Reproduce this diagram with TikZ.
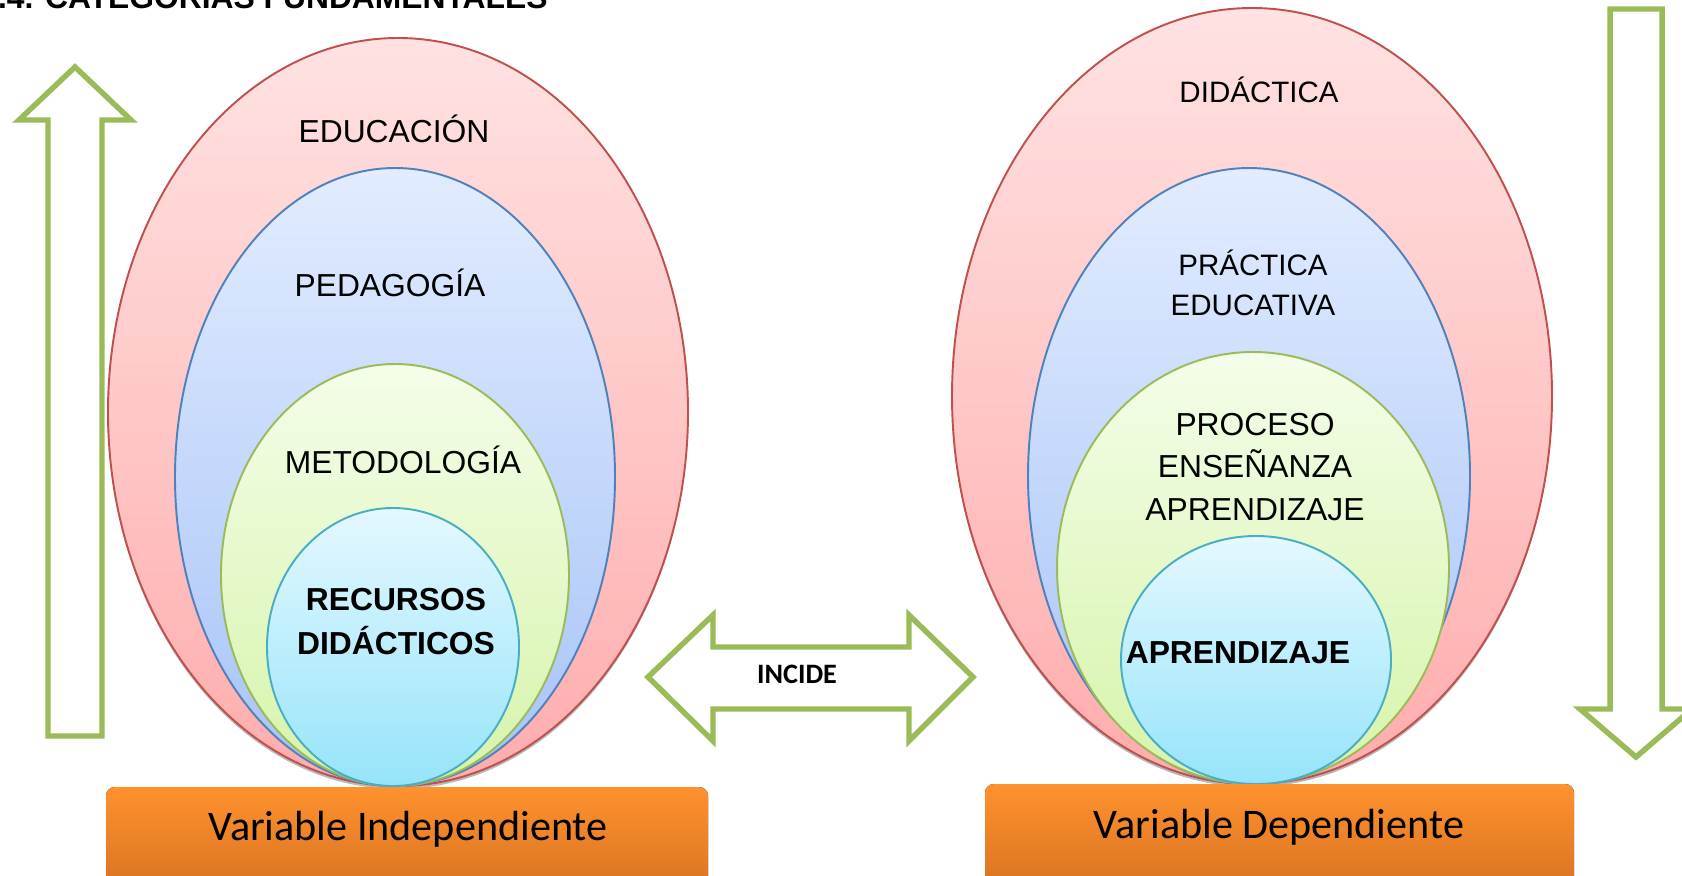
\documentclass[tikz,border=0pt]{standalone}
\usepackage{fontspec}
\setmainfont{Liberation Sans}
\newfontfamily\calibri{Carlito}
\usepackage{tikz}

\definecolor{verdeF}{RGB}{155,187,89}
\definecolor{rojoA}{RGB}{255,226,226}
\definecolor{rojoB}{RGB}{255,172,172}
\definecolor{rojoL}{RGB}{192,80,77}
\definecolor{azulA}{RGB}{226,236,255}
\definecolor{azulB}{RGB}{166,195,247}
\definecolor{azulL}{RGB}{79,129,189}
\definecolor{verdeA}{RGB}{244,253,233}
\definecolor{verdeB}{RGB}{214,244,170}
\definecolor{cianA}{RGB}{228,248,255}
\definecolor{cianB}{RGB}{150,228,250}
\definecolor{cianL}{RGB}{75,172,198}
\definecolor{naranjaA}{RGB}{255,146,46}
\definecolor{naranjaB}{RGB}{212,112,32}

\begin{document}
\begin{tikzpicture}[x=0.02cm,y=-0.02cm,
    rojo/.style={top color=rojoA,bottom color=rojoB,draw=rojoL,line width=1.1pt},
    azul/.style={top color=azulA,bottom color=azulB,draw=azulL,line width=1.1pt},
    verde/.style={top color=verdeA,bottom color=verdeB,draw=verdeF,line width=1.1pt},
    cian/.style={top color=cianA,bottom color=cianB,draw=cianL,line width=1.1pt},
    flecha/.style={draw=verdeF,line width=3.1pt,fill=white,line join=miter},
    caja/.style={top color=naranjaA,bottom color=naranjaB,rounded corners=5pt},
    cat/.style={anchor=base,inner sep=0pt,font=\fontsize{18.1}{22}\selectfont},
    catb/.style={cat,font=\fontsize{18.1}{22}\selectfont\bfseries},
    var/.style={anchor=base,inner sep=0pt,font=\calibri\fontsize{24}{28}\selectfont}]
    \useasboundingbox (0,0) rectangle (1682,875);
    \clip (0,0) rectangle (1682,875);

    % titulo (cortado arriba)
    \node[anchor=base west,inner sep=0pt,font=\fontsize{18.1}{22}\selectfont\bfseries] (titulo) at (-20,8.5) {2.4. CATEGORÍAS FUNDAMENTALES};

    % flechas
    \draw[flecha] (75,67) -- (131,120) -- (102,120) -- (102,736) -- (48,736) -- (48,120) -- (19,120) -- cycle;
    \draw[flecha] (1636,757) -- (1692,709) -- (1662,709) -- (1662,9) -- (1610,9) -- (1610,709) -- (1580,709) -- cycle;
    \draw[flecha] (648,677) -- (713,615) -- (713,647) -- (909,647) -- (909,615) -- (973,677)
        -- (909,741) -- (909,709) -- (713,709) -- (713,741) -- cycle;
    \node[anchor=base,inner sep=0pt,font=\calibri\bfseries\fontsize{16}{19}\selectfont] (incide) at (797,683) {INCIDE};

    % variable independiente
    \fill[gray!55] (398,415) ellipse [x radius=290,y radius=374];
    \draw[rojo] (398,412) ellipse [x radius=290,y radius=374];
    \draw[azul] (395,477) ellipse [x radius=220,y radius=309];
    \draw[verde] (395,575) ellipse [x radius=174,y radius=211];
    \draw[cian] (393,647) ellipse [x radius=126,y radius=139];
    \node[cat] (educ) at (394,142) {EDUCACIÓN};
    \node[cat] (pedag) at (390,296) {PEDAGOGÍA};
    \node[cat] (metod) at (403,473) {METODOLOGÍA};
    \node[catb] (rec1) at (396,610) {RECURSOS};
    \node[catb] (rec2) at (396,654) {DIDÁCTICOS};
    \fill[caja] (106,787) rectangle (708,900);
    \node[var] (vind) at (408,840) {Variable Independiente};

    % variable dependiente
    \fill[gray!55] (1252,399) ellipse [x radius=300,y radius=388];
    \draw[rojo] (1252,396) ellipse [x radius=300,y radius=388];
    \draw[azul] (1249,476) ellipse [x radius=221,y radius=308];
    \draw[verde] (1253,568) ellipse [x radius=196,y radius=216];
    \draw[cian] (1256,660) ellipse [x radius=135,y radius=124];
    \node[cat,font=\fontsize{16.8}{20}\selectfont] (didac) at (1259,103) {DIDÁCTICA};
    \node[cat,font=\fontsize{16.8}{20}\selectfont] (pract1) at (1253,275) {PRÁCTICA};
    \node[cat,font=\fontsize{16.8}{20}\selectfont] (pract2) at (1253,315) {EDUCATIVA};
    \node[cat] (proc1) at (1255,435) {PROCESO};
    \node[cat] (proc2) at (1255,477) {ENSEÑANZA};
    \node[cat] (proc3) at (1255,520) {APRENDIZAJE};
    \node[catb] (aprend) at (1238,663) {APRENDIZAJE};
    \fill[caja] (985,784) rectangle (1574,900);
    \node[var] (vdep) at (1279,838) {Variable Dependiente};
\end{tikzpicture}
\end{document}
